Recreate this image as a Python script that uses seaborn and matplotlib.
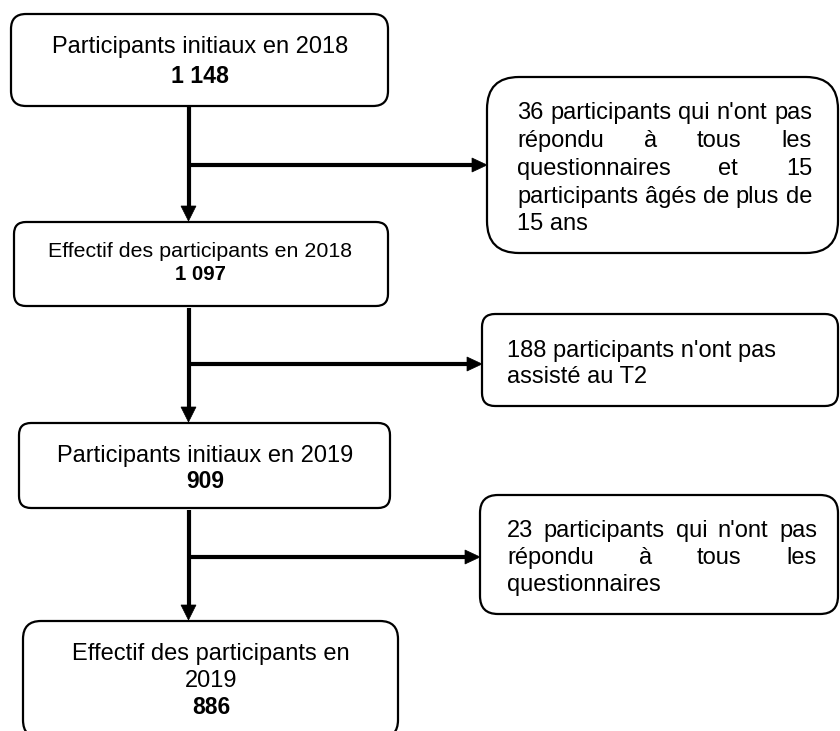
import matplotlib
matplotlib.use("Agg")
import matplotlib.pyplot as plt
import seaborn as sns
from matplotlib.patches import FancyBboxPatch, Polygon

sns.set_theme(style="white")
plt.rcParams['font.family'] = ['Liberation Sans', 'DejaVu Sans']
plt.rcParams['text.color'] = 'black'

# flow stages (left column)
stage_labels = ["Participants initiaux en 2018",
                "Effectif des participants en 2018",
                "Participants initiaux en 2019",
                "Effectif des participants en\n2019"]
stage_counts = ["1 148", "1 097", "909", "886"]

# exclusions (right column)
excl_lines = [
    ["36 participants qui n'ont pas", "répondu à tous les",
     "questionnaires et 15", "participants âgés de plus de", "15 ans"],
    ["188 participants n'ont pas", "assisté au T2"],
    ["23 participants qui n'ont pas", "répondu à tous les", "questionnaires"],
]
excl_justified = [True, False, True]

# layout in pixel units
stage_boxes = [(11, 14, 388, 106), (14, 222, 388, 306), (19, 423, 390, 508), (23, 621, 398, 738)]
stage_round = [15, 12, 12, 18]
stage_cx = [200, 200, 205, 211]
stage_base = [[53, 83], [257, 280], [462, 488], [660, 687, 714]]
stage_fs = [(17, 16.7), (15.4, 14.7), (17, 16.5), (17, 16.5)]

excl_boxes = [(487, 77, 838, 253), (482, 314, 838, 406), (480, 495, 838, 614)]
excl_round = [32, 13, 18]
excl_text_x = [(517, 812), (507, 812), (507, 817)]
excl_base = [[119, 147, 175, 203, 230], [357, 383], [537, 564, 591]]

trunk_x = 188.5
trunks = [(107, 221), (308, 422), (510, 620)]
branch_y = [165, 364, 557]

fig = plt.figure(figsize=(8.4, 7.31), dpi=100)
ax = fig.add_axes([0, 0, 1, 1])
ax.set_xlim(0, 840)
ax.set_ylim(731, 0)
ax.axis('off')
renderer = fig.canvas.get_renderer()


def rbox(b, r):
    x0, y0, x1, y1 = b
    p = FancyBboxPatch((x0, y0), x1 - x0, y1 - y0,
                       boxstyle=f"round,pad=0,rounding_size={r}",
                       fc='white', ec='black', lw=1.6, zorder=2)
    ax.add_patch(p)


def put_line(words, x0, x1, y, fs, justify):
    if not justify or len(words) == 1:
        ax.text(x0, y, " ".join(words), fontsize=fs, ha='left', va='baseline', zorder=3)
        return
    texts = [ax.text(0, y, w, fontsize=fs, ha='left', va='baseline', zorder=3) for w in words]
    widths = [t.get_window_extent(renderer).width for t in texts]
    gap = (x1 - x0 - sum(widths)) / (len(words) - 1)
    x = x0
    for t, w in zip(texts, widths):
        t.set_x(x)
        x += w + gap


for i, b in enumerate(stage_boxes):
    rbox(b, stage_round[i])
    lines = stage_labels[i].split("\n")
    fs_lab, fs_num = stage_fs[i]
    for j, ln in enumerate(lines):
        ax.text(stage_cx[i], stage_base[i][j], ln, fontsize=fs_lab,
                ha='center', va='baseline', zorder=3)
    ax.text(stage_cx[i], stage_base[i][len(lines)], stage_counts[i],
            fontsize=fs_num, fontweight='bold', ha='center', va='baseline', zorder=3)

for i, b in enumerate(excl_boxes):
    rbox(b, excl_round[i])
    x0, x1 = excl_text_x[i]
    n = len(excl_lines[i])
    for j, ln in enumerate(excl_lines[i]):
        just = excl_justified[i] and j < n - 1
        put_line(ln.split(" "), x0, x1, excl_base[i][j], 17, just)

# arrows
for i, (ya, yb) in enumerate(trunks):
    ax.plot([trunk_x, trunk_x], [ya, yb - 12], color='black', lw=3, solid_capstyle='butt', zorder=1)
    ax.add_patch(Polygon([(trunk_x, yb), (trunk_x - 7.5, yb - 15), (trunk_x + 7.5, yb - 15)],
                         closed=True, fc='black', ec='black', lw=0.5, zorder=1))
    xb = excl_boxes[i][0]
    yy = branch_y[i]
    ax.plot([trunk_x, xb - 12], [yy, yy], color='black', lw=3, solid_capstyle='butt', zorder=1)
    ax.add_patch(Polygon([(xb, yy), (xb - 15, yy - 7), (xb - 15, yy + 7)],
                         closed=True, fc='black', ec='black', lw=0.5, zorder=1))

fig.savefig("out.png", dpi=100, facecolor='white')
